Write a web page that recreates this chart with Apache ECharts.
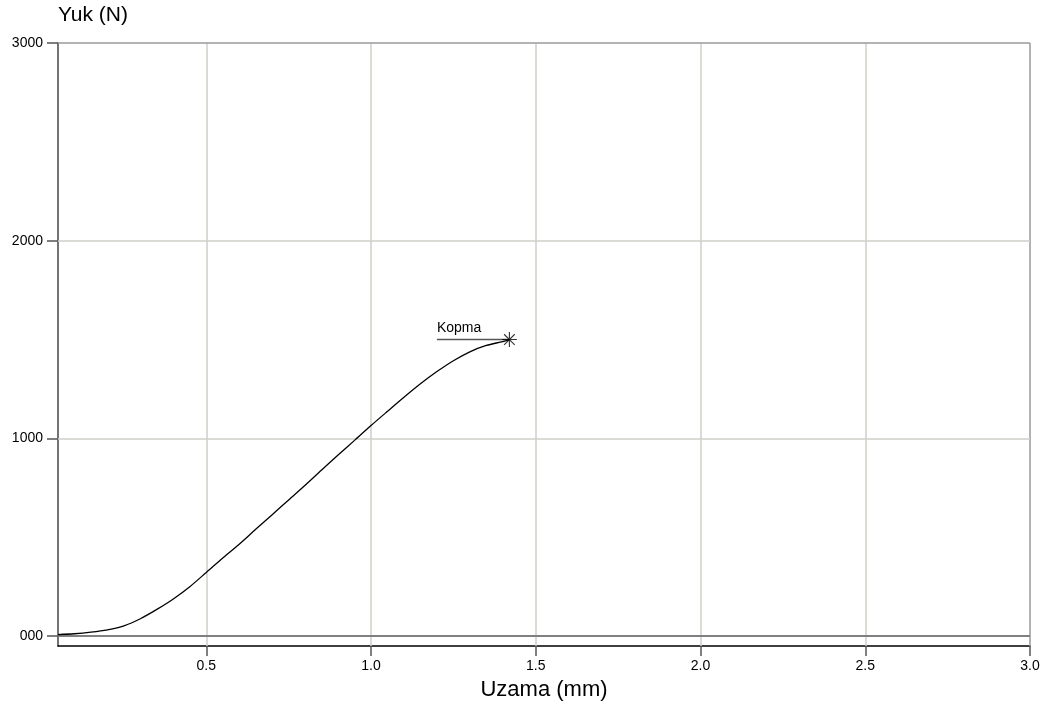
<!DOCTYPE html>
<html>
<head>
<meta charset="utf-8">
<script src="https://cdn.jsdelivr.net/npm/echarts@6/dist/echarts.min.js"></script>
<style>
  html, body { margin: 0; padding: 0; background: #fff; }
  #chart { width: 1041px; height: 713px; }
</style>
</head>
<body>
<div id="chart"></div>
<script>
// Load-elongation curve of the tensile test
const elongation = [0.05, 0.10, 0.15, 0.20, 0.25, 0.30, 0.35, 0.40, 0.45, 0.50,
                    0.55, 0.60, 0.65, 0.70, 0.75, 0.80, 0.85, 0.90, 0.95, 1.00,
                    1.05, 1.10, 1.15, 1.20, 1.25, 1.30, 1.35, 1.40, 1.42];
const load = [8, 12, 20, 32, 52, 88, 135, 188, 250, 322,
              395, 465, 540, 614, 689, 763, 840, 916, 990, 1065,
              1137, 1208, 1276, 1338, 1393, 1438, 1470, 1490, 1500];

// Break point and its annotation
const breakPoint = [1.42, 1500];
const breakLabel = 'Kopma';
const breakLeaderX = [1.20, 1.42];

// Axis ticks
const xTicks = [0.5, 1.0, 1.5, 2.0, 2.5, 3.0];
const yTicks = [0, 1000, 2000, 3000];
const xRange = [0.05, 3.0];
const yRange = [-50, 3000];

const FONT = '"Liberation Sans", Arial, sans-serif';
const GRID_COLOR = '#cfcfc8';

const curve = elongation.map((x, i) => [x, load[i]]);

const gridLines = [];
xTicks.forEach(v => gridLines.push({ xAxis: v, lineStyle: { color: v === 3.0 ? '#9a9a9a' : GRID_COLOR, width: 1.5, type: 'solid' } }));
yTicks.forEach(v => {
  if (v === 0) gridLines.push({ yAxis: v, lineStyle: { color: '#808080', width: 2, type: 'solid' } });
  else if (v === 3000) gridLines.push({ yAxis: v, lineStyle: { color: '#9a9a9a', width: 1.5, type: 'solid' } });
  else gridLines.push({ yAxis: v, lineStyle: { color: GRID_COLOR, width: 1.5, type: 'solid' } });
});

const chart = echarts.init(document.getElementById('chart'), null, { renderer: 'canvas' });
chart.setOption({
  animation: false,
  backgroundColor: '#ffffff',
  textStyle: { fontFamily: FONT },
  grid: { left: 58, right: 11, top: 43, bottom: 67, containLabel: false, outerBoundsMode: 'none' },
  xAxis: {
    type: 'value',
    min: xRange[0],
    max: xRange[1],
    name: 'Uzama (mm)',
    nameLocation: 'middle',
    nameGap: 33,
    nameTextStyle: { fontSize: 22, color: '#000', fontFamily: FONT },
    axisLine: { show: true, onZero: false, lineStyle: { color: '#000', width: 1.5 } },
    axisTick: { show: true, customValues: xTicks, length: 10, lineStyle: { color: '#555', width: 1.5 } },
    axisLabel: {
      customValues: xTicks,
      color: '#000', fontSize: 14, fontFamily: FONT, margin: 13,
      formatter: v => v.toFixed(1)
    },
    splitLine: { show: false }
  },
  yAxis: {
    type: 'value',
    min: yRange[0],
    max: yRange[1],
    name: 'Yuk (N)',
    nameLocation: 'end',
    nameGap: 17,
    nameTextStyle: { fontSize: 21, color: '#000', fontFamily: FONT, align: 'left' },
    axisLine: { show: true, onZero: false, lineStyle: { color: '#444', width: 1.5 } },
    axisTick: { show: true, customValues: yTicks, length: 11, lineStyle: { color: '#555', width: 1.5 } },
    axisLabel: {
      customValues: yTicks,
      color: '#000', fontSize: 14, fontFamily: FONT, margin: 15,
      formatter: v => (v === 0 ? '000' : String(v))
    },
    splitLine: { show: false }
  },
  series: [
    {
      type: 'line',
      name: 'grid',
      data: [],
      silent: true,
      markLine: { symbol: 'none', silent: true, label: { show: false }, data: gridLines, z: 1 },
      z: 1
    },
    {
      type: 'line',
      name: 'Yuk',
      data: curve,
      smooth: 0.3,
      showSymbol: false,
      lineStyle: { color: '#000', width: 1.3 },
      z: 5
    },
    {
      type: 'line',
      name: breakLabel,
      data: breakLeaderX.map(x => [x, breakPoint[1]]),
      showSymbol: false,
      symbol: 'none',
      lineStyle: { color: '#555', width: 1.5 },
      markPoint: {
        symbol: 'circle', symbolSize: 0,
        data: [{ coord: [breakLeaderX[0], breakPoint[1]], value: breakLabel }],
        label: {
          show: true, formatter: breakLabel, position: 'top', align: 'left',
          offset: [0, 1], color: '#000', fontSize: 14, fontFamily: FONT
        }
      },
      z: 4
    },
    {
      type: 'scatter',
      name: 'break',
      data: [breakPoint],
      symbol: 'path://M0,-10 L0,10 M-10,0 L10,0 M-7.07,-7.07 L7.07,7.07 M-7.07,7.07 L7.07,-7.07',
      symbolSize: 15,
      itemStyle: { color: 'rgba(0,0,0,0)', borderColor: '#000', borderWidth: 1.1 },
      z: 6
    }
  ]
});
</script>
</body>
</html>
